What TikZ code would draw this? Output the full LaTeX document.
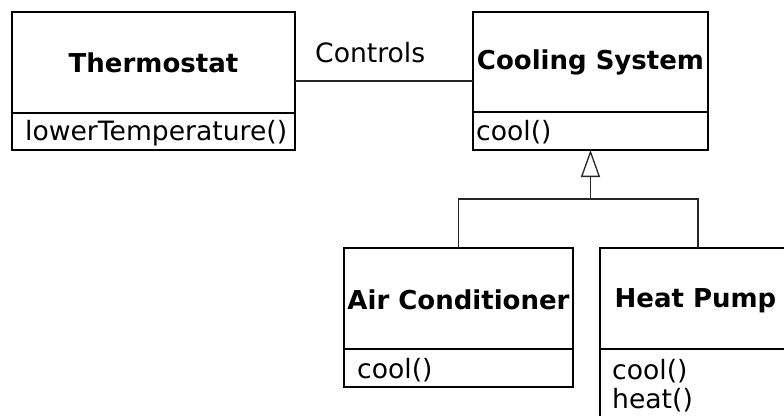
\documentclass[tikz,border=0pt]{standalone}
\usepackage{fontspec}
\setmainfont{DejaVu Sans}
\usetikzlibrary{arrows.meta}
\begin{document}
\begin{tikzpicture}[x=1pt,y=-1pt,
  classbox/.style={draw=black, line width=2pt, rectangle, outer sep=0pt, inner sep=0pt},
  sepline/.style={draw=black, line width=2pt},
  title/.style={font=\fontsize{26}{30}\selectfont\bfseries, inner sep=0pt},
  oper/.style={font=\fontsize{26.6}{29}\selectfont, inner sep=0pt, anchor=base west},
  conn/.style={draw=black!85, line width=1.3pt},
  gen/.style={conn, -{Triangle[open, length=27pt, width=19pt, line width=1.3pt]}}
]
\useasboundingbox (0,0) rectangle (784,415);
\begin{scope}
\clip (0,0) rectangle (784,415);
% Thermostat
\node[classbox, minimum width=283pt, minimum height=138pt] (thermo) at (153.5,81) {};
\draw[sepline] (12,113) -- (295,113);
\node[title] (thermoT) at (153.5,62.5) {Thermostat};
\node[oper] (thermoO) at (25,140) {lowerTemperature()};
% Cooling System
\node[classbox, minimum width=235pt, minimum height=138pt] (cool) at (590.5,81) {};
\draw[sepline] (473,112) -- (708,112);
\node[title] (coolT) at (590.5,62.5) {Cooling System};
\node[oper] (coolO) at (476,140) {cool()};
% Air Conditioner
\node[classbox, minimum width=229pt, minimum height=139pt] (ac) at (458.5,317.5) {};
\draw[sepline] (344,349) -- (573,349);
\node[title] (acT) at (458.5,300) {Air Conditioner};
\node[oper] (acO) at (357,378) {cool()};
% Heat Pump
\node[classbox, minimum width=196pt, minimum height=200pt] (hp) at (698,348) {};
\draw[sepline] (600,349) -- (796,349);
\node[title] (hpT) at (695.5,301) {Heat Pump};
\node[oper] (hpO1) at (612,379) {cool()};
\node[oper] (hpO2) at (612,408) {heat()};
\end{scope}
% Association
\draw[conn] (thermo.east) -- (cool.west);
\node[font=\fontsize{26.6}{30}\selectfont, inner sep=0pt, anchor=base west] (ctl) at (315,62) {Controls};
% Generalization
\coordinate (j) at (590.5,199);
\draw[conn] (ac.north) -- (ac.north |- j) -- (hp.north |- j) -- (hp.north);
\draw[gen] (j) -- (cool.south);
\end{tikzpicture}
\end{document}
